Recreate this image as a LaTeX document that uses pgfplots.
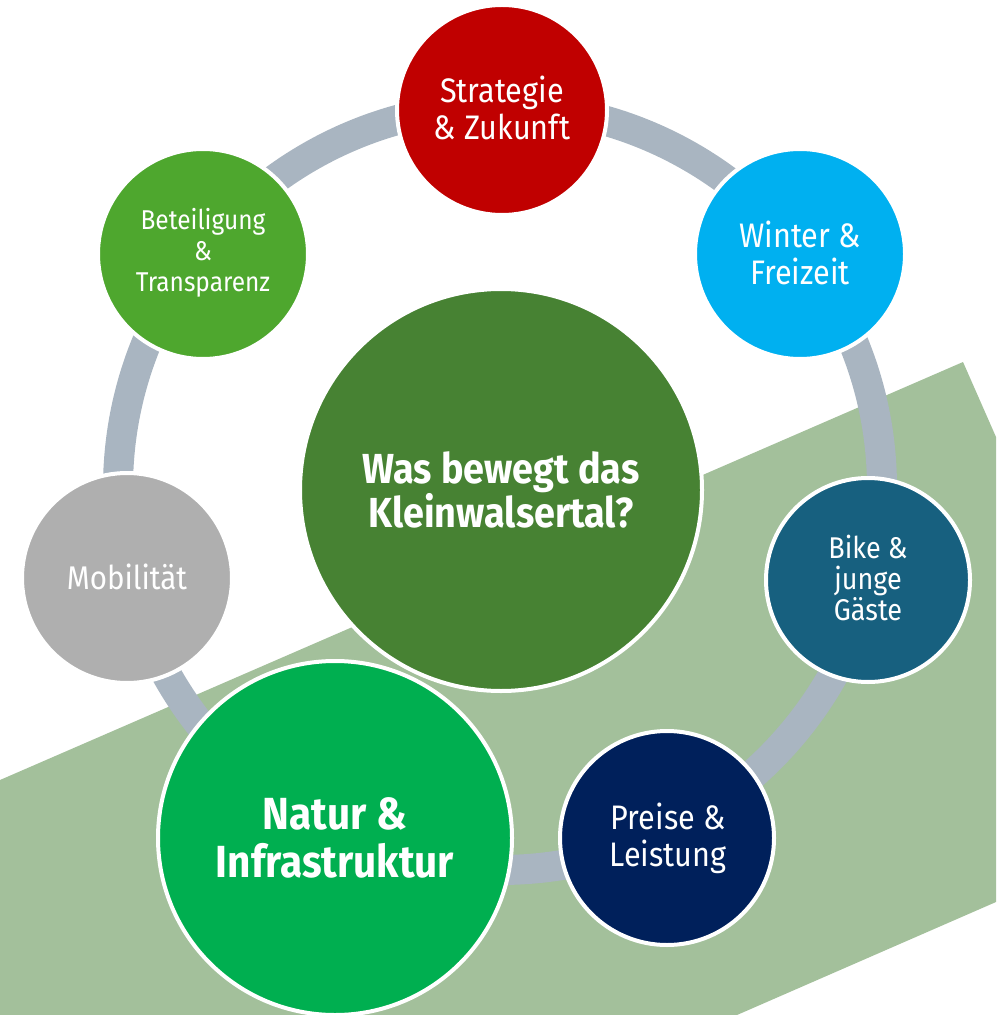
\documentclass[border=0pt]{standalone}
\usepackage{fontspec}
\setmainfont{Fira Sans}[FakeStretch=0.9]
\usepackage{pgfplots}
\pgfplotsset{compat=1.18}
\definecolor{band}{HTML}{A3C09B}
\definecolor{ring}{HTML}{A9B5C1}
\definecolor{cRed}{HTML}{C00000}
\definecolor{cSky}{HTML}{00B0F0}
\definecolor{cPetrol}{HTML}{17607F}
\definecolor{cNavy}{HTML}{00205B}
\definecolor{cGreen}{HTML}{00AF50}
\definecolor{cGrey}{HTML}{AFAFAF}
\definecolor{cLeaf}{HTML}{4EA72E}
\definecolor{cCenter}{HTML}{478233}
\tikzset{
    lbl/.style={text=white, align=center, font=\fontsize{17}{18.5}\selectfont},
    bubble/.style={only marks, mark=*, mark options={fill=#1, draw=white, line width=2pt}},
}
\begin{document}
\begin{tikzpicture}
\begin{axis}[
    width=498pt, height=507.5pt, scale only axis,
    xmin=0, xmax=996, ymin=0, ymax=1015, y dir=reverse,
    hide axis, clip=true, clip marker paths=true,
]
% background band
\addplot[fill=band, draw=none] coordinates {(0,780) (963,362) (996,437) (996,902) (737,1015) (0,1015)} -- cycle;
% ring
\addplot[only marks, mark=o, mark size=191pt, mark options={draw=ring, line width=15pt}] coordinates {(500,488)};
% bubbles
\addplot[bubble=cRed, mark size=52.5pt] coordinates {(502,110)};
\addplot[bubble=cSky, mark size=52.5pt] coordinates {(800,254)};
\addplot[bubble=cPetrol, mark size=51pt] coordinates {(868,580)};
\addplot[bubble=cNavy, mark size=53.5pt] coordinates {(667,838)};
\addplot[bubble=cGrey, mark size=52.5pt] coordinates {(127,578)};
\addplot[bubble=cLeaf, mark size=52.5pt] coordinates {(203,254)};
\addplot[bubble=cCenter, mark size=100.5pt] coordinates {(501,490)};
\addplot[bubble=cGreen, mark size=88.5pt] coordinates {(335,838)};
% labels
\node[lbl] at (axis cs:502,108) {Strategie\\\& Zukunft};
\node[lbl] at (axis cs:800,253) {Winter \&\\Freizeit};
\node[lbl, font=\fontsize{13.6}{15.5}\selectfont] at (axis cs:203,253) {Beteiligung\\\&\\Transparenz};
\node[lbl, font=\fontsize{16.4}{18}\selectfont] at (axis cs:127,577) {Mobilität};
\node[lbl, font=\fontsize{15}{15.5}\selectfont] at (axis cs:868,578) {Bike \&\\junge\\Gäste};
\node[lbl] at (axis cs:668,838) {Preise \&\\Leistung};
\node[lbl, font=\fontsize{22.5}{24}\selectfont\bfseries] at (axis cs:335,838) {Natur \&\\Infrastruktur};
\node[lbl, font=\fontsize{21}{22}\selectfont\bfseries] at (axis cs:501,490) {Was bewegt das\\Kleinwalsertal?};
\end{axis}
\pgfresetboundingbox
\path[use as bounding box] (current axis.south west) rectangle (current axis.north east);
\end{tikzpicture}
\end{document}
